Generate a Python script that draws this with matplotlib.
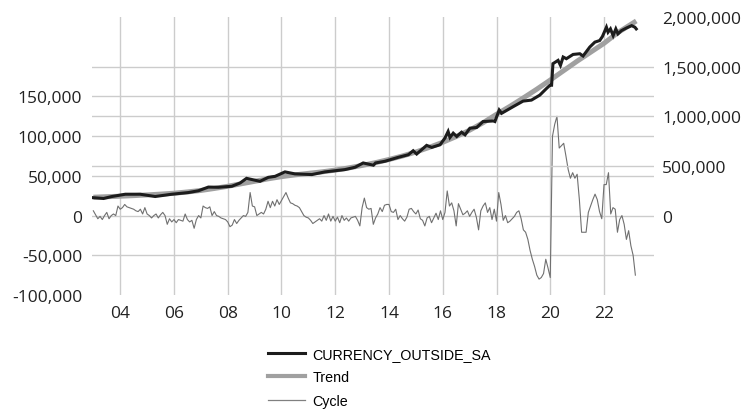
import numpy as np
import matplotlib
matplotlib.use("Agg")
import matplotlib.pyplot as plt
from matplotlib.lines import Line2D
from matplotlib.ticker import FuncFormatter

# Currency outside banks (seasonally adjusted), right axis, thousands
series_t = [2003.0, 2003.38, 2003.69, 2004.19, 2004.74, 2005.3, 2005.92, 2006.54, 2006.91,
            2007.28, 2007.65, 2008.15, 2008.46, 2008.7, 2009.2, 2009.51, 2009.76, 2010.13,
            2010.5, 2011.13, 2011.62, 2012.36, 2012.74, 2013.04, 2013.42, 2013.5, 2013.85,
            2014.35, 2014.72, 2014.9, 2015.03, 2015.4, 2015.59, 2015.9, 2016.08, 2016.2,
            2016.27, 2016.39, 2016.52, 2016.7, 2016.83, 2017.01, 2017.26, 2017.5, 2017.88,
            2017.94, 2018.1, 2018.19, 2018.62, 2018.99, 2019.3, 2019.61, 2019.86, 2019.99,
            2020.05, 2020.1, 2020.29, 2020.38, 2020.48, 2020.6, 2020.85, 2021.1, 2021.22,
            2021.47, 2021.66, 2021.84, 2021.94, 2022.09, 2022.15, 2022.24, 2022.34, 2022.44,
            2022.52, 2022.65, 2022.84, 2023.03, 2023.15, 2023.2]
series_v = [180, 172, 192, 215, 215, 192, 215, 232, 250,
            287, 285, 295, 328, 375, 345, 385, 395, 440,
            420, 413, 440, 463, 487, 530, 507, 530, 547,
            587, 613, 653, 620, 707, 687, 713, 780, 847,
            787, 830, 797, 840, 813, 880, 887, 947, 953,
            947, 1063, 1030, 1097, 1153, 1163, 1213, 1280, 1313,
            1313, 1530, 1563, 1513, 1597, 1580, 1623, 1630, 1607,
            1697, 1747, 1763, 1803, 1897, 1847, 1880, 1813, 1880,
            1830, 1863, 1890, 1913, 1897, 1880]

# Hodrick-Prescott trend, right axis, thousands
trend_t = [2003.0, 2003.5, 2004.0, 2004.5, 2005.0, 2005.5, 2006.0, 2006.5, 2007.0, 2007.5,
           2008.0, 2008.5, 2009.0, 2009.5, 2010.0, 2010.5, 2011.0, 2011.5, 2012.0, 2012.5,
           2013.0, 2013.5, 2014.0, 2014.5, 2015.0, 2015.5, 2016.0, 2016.5, 2017.0, 2017.5,
           2018.0, 2018.5, 2019.0, 2019.5, 2020.0, 2020.5, 2021.0, 2021.5, 2022.0, 2022.5,
           2023.2]
trend_v = [185, 190, 195, 201, 208, 216, 225, 238, 253, 273,
           295, 320, 345, 370, 392, 410, 425, 440, 458, 480,
           505, 533, 565, 600, 640, 687, 738, 796, 860, 935,
           1020, 1100, 1185, 1273, 1365, 1460, 1555, 1645, 1735, 1840,
           1960]

# Cyclical component, monthly from 2003M01, left axis, thousands
cycle_v = [6, 1, -4, -1, -5, 0, 4, -4, 0, 2, 0, 12,
           8, 10, 14, 11, 10, 9, 8, 6, 5, 8, 2, 10,
           2, 0, -3, 0, 2, -3, 1, 4, 0, -11, -4, -8,
           -5, -9, -5, -6, -7, 2, -5, -8, -6, -16, -5, 0,
           -3, 12, 10, 9, 11, 0, 5, 0, -1, -3, -4, -5,
           -8, -14, -12, -5, -10, -6, -3, 0, -1, 4, 29, 12,
           11, 0, 2, 4, 2, 8, 18, 10, 18, 12, 20, 14,
           19, 24, 29, 22, 16, 15, 13, 12, 10, 5, 0, -2,
           -3, -6, -10, -8, -6, -4, -7, 0, -6, 2, -7, -1,
           -7, -2, -9, 0, -6, -3, -7, -3, -2, -1, -6, -13,
           10, 22, 10, 8, 9, -11, -3, 2, 10, 5, 13, 14,
           14, 5, 4, 8, -5, 0, -4, -7, -2, 8, 9, 5,
           2, 7, -4, -6, -13, -3, -1, -9, -3, 3, -5, 6,
           -5, 4, 31, 12, 16, 6, -13, 15, 8, 1, 3, 6,
           -1, 4, 8, -2, -18, 6, 12, 16, 4, 10, -5, 8,
           -7, 29, 14, -6, 0, -9, -7, -4, -1, 4, 6, -4,
           -18, -21, -30, -44, -55, -64, -75, -80, -78, -73, -55, -66,
           -78, 100, 115, 125, 85, 88, 91, 75, 58, 47, 54, 47,
           52, 20, -21, -21, -21, 4, 12, 20, 27, 20, 5, -4,
           39, 39, 54, 2, 10, 8, -21, -5, 0, -11, -30, -19,
           -38, -50, -75]
cycle_start = 2003.0

year_ticks = [2004, 2006, 2008, 2010, 2012, 2014, 2016, 2018, 2020, 2022]
left_ticks = [-100000, -50000, 0, 50000, 100000, 150000]
right_ticks = [0, 500000, 1000000, 1500000, 2000000]

labels = ["CURRENCY_OUTSIDE_SA", "Trend", "Cycle"]

W, H = 746, 410
fig = plt.figure(figsize=(W / 100, H / 100), dpi=100)
ax = fig.add_axes([92 / W, 1 - 296 / H, 562 / W, 278 / H])
ax2 = ax.twinx()

tick_family = ["Open Sans", "DejaVu Sans"]
tick_size = 12.5
grid_c = "#cccccc"
grid_lw = 1.0

cyc = np.asarray(cycle_v, dtype=float) * 1000
cyc_t = cycle_start + np.arange(len(cyc)) / 12.0

ax.set_xlim(2002.95, 2023.86)
ax.set_ylim(-100000, 250000)
ax2.set_ylim(-800000, 2000000)

# grid: vertical at year ticks, horizontal at left/right tick levels
for yr in year_ticks:
    ax.axvline(yr, color=grid_c, lw=grid_lw, zorder=0)
for v in [-50000, 0, 50000, 100000, 150000]:
    ax.axhline(v, color=grid_c, lw=grid_lw, zorder=0)
for v in [500000, 1000000, 1500000]:
    ax2.axhline(v, color=grid_c, lw=grid_lw, zorder=0)

ax.plot(cyc_t, cyc, color="#707070", lw=0.8, zorder=2)
ax2.plot(trend_t, np.asarray(trend_v) * 1000, color="#a0a0a0", lw=3.6,
         solid_capstyle="butt", zorder=2)
ax2.plot(series_t, np.asarray(series_v) * 1000, color="#1c1c1c", lw=2.2,
         solid_joinstyle="miter", zorder=3)

fmt = FuncFormatter(lambda v, p: f"{int(round(v)):,}")
ax.set_xticks(year_ticks)
ax.set_xticklabels([f"{y % 100:02d}" for y in year_ticks])
ax.set_yticks(left_ticks)
ax.yaxis.set_major_formatter(fmt)
ax2.set_yticks(right_ticks)
ax2.yaxis.set_major_formatter(fmt)

for a in (ax, ax2):
    for s in a.spines.values():
        s.set_visible(False)
    a.tick_params(length=0, colors="#222222")
    for lab in a.get_xticklabels() + a.get_yticklabels():
        lab.set_fontfamily(tick_family)
        lab.set_fontsize(tick_size)
ax.tick_params(axis="y", pad=7)
ax.tick_params(axis="x", pad=7)
ax2.tick_params(axis="y", pad=6)

handles = [Line2D([], [], color="#1c1c1c", lw=2.2),
           Line2D([], [], color="#a0a0a0", lw=3.0),
           Line2D([], [], color="#808080", lw=0.9)]
fig.legend(handles, labels, loc="upper left", bbox_to_anchor=(268 / W, 1 - 348 / H),
           frameon=False, borderpad=0, borderaxespad=0, handlelength=2.6,
           handletextpad=0.5, labelspacing=0.66,
           prop=dict(family=["Liberation Sans", "DejaVu Sans"], size=10.3))

fig.savefig("out.png", dpi=100, facecolor="white")
